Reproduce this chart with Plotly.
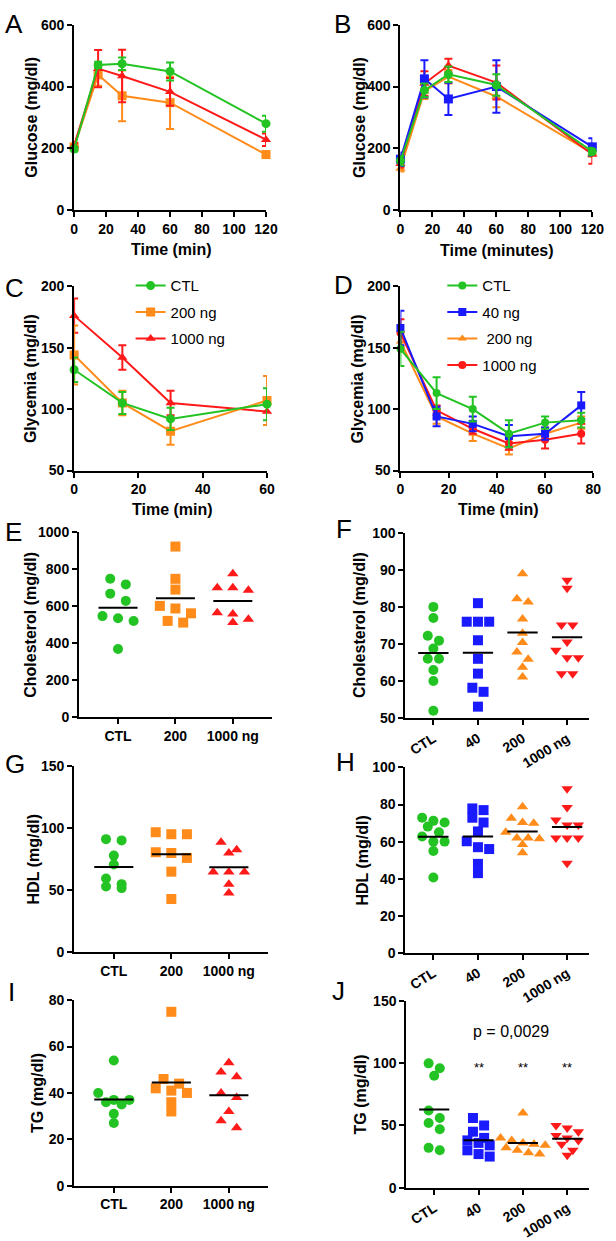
import numpy as np
import plotly.graph_objects as go

W, H = 616, 1241
PAD = 0
FW, FH = W - 2 * PAD, H - 2 * PAD
FONT = "Liberation Sans"
GREEN = "#22c322"
ORANGE = "#ff8c1a"
RED = "#ff1a1a"
BLUE = "#1a1aff"

# ---------------- data ----------------
# Panel A (GTT)
A_time = [0, 15, 30, 60, 120]
A_ctl = [198, 470, 474, 449, 280]
A_ctl_sem = [8, 10, 20, 29, 26]
A_200 = [205, 438, 370, 348, 180]
A_200_sem = [8, 35, 82, 85, 10]
A_1000 = [210, 458, 434, 383, 228]
A_1000_sem = [8, 60, 85, 45, 20]

# Panel B (GTT)
B_time = [0, 15, 30, 60, 120]
B_ctl = [160, 388, 440, 405, 190]
B_ctl_sem = [15, 22, 25, 35, 12]
B_40 = [165, 425, 360, 400, 205]
B_40_sem = [22, 60, 52, 85, 28]
B_200 = [135, 385, 432, 368, 185]
B_200_sem = [10, 25, 22, 35, 12]
B_1000 = [150, 410, 468, 413, 180]
B_1000_sem = [12, 40, 22, 55, 30]

# Panel C (ITT)
C_time = [0, 15, 30, 60]
C_ctl = [132, 105, 92, 104]
C_ctl_sem = [10, 9, 9, 13]
C_200 = [144, 105, 82, 107]
C_200_sem = [24, 10, 11, 20]
C_1000 = [176, 142, 105, 98]
C_1000_sem = [14, 10, 10, 11]

# Panel D (ITT)
D_time = [0, 15, 30, 45, 60, 75]
D_ctl = [149, 113, 100, 80, 89, 91]
D_ctl_sem = [14, 13, 10, 11, 5, 6]
D_40 = [166, 94, 88, 78, 80, 103]
D_40_sem = [14, 8, 6, 9, 5, 11]
D_200 = [155, 94, 80, 68, 80, 89]
D_200_sem = [8, 6, 6, 5, 5, 5]
D_1000 = [162, 99, 84, 72, 75, 80]
D_1000_sem = [11, 4, 4, 5, 7, 8]

# Scatter panels
cats3 = ["CTL", "200", "1000 ng"]
cats4 = ["CTL", "40", "200", "1000 ng"]

E_ctl = [746, 716, 666, 627, 545, 533, 519, 368]
E_200 = [920, 746, 688, 600, 586, 560, 519, 510]
E_1000 = [773, 698, 698, 684, 563, 556, 528, 510]

F_ctl = [80, 77, 72.2, 70.9, 68.8, 66, 66, 63, 60, 52]
F_40 = [81, 76, 76, 76, 71, 66, 62, 58.2, 57.1, 53.1]
F_200 = [88.9, 82.2, 81.3, 76.7, 72.9, 70.4, 67.8, 65.9, 63.7, 61.1]
F_1000 = [87.2, 85, 75.1, 75.1, 70.5, 68.3, 66.3, 66.3, 62, 62]

G_ctl = [91.2, 90.2, 77.9, 70.7, 59.3, 54.8, 52.9, 51.6]
G_200 = [96.8, 95.2, 95.2, 80.6, 80, 76, 64.9, 42.8]
G_1000 = [88.6, 82.7, 80, 64.6, 64.6, 64.6, 54.8, 47.6]

H_ctl = [72.9, 71.2, 70.3, 68.1, 65, 62.8, 60, 60, 54.9, 40.7]
H_40 = [77.9, 77, 72.9, 70.3, 65.5, 60.2, 57, 56, 48, 43]
H_200 = [78.8, 72.6, 70.3, 69.9, 65, 62, 62, 61.5, 58.4, 54]
H_1000 = [88.5, 78.4, 71.7, 69, 69, 62, 62, 62, 48.3]

I_ctl = [54, 40, 37, 37, 36, 35, 31, 27]
I_200 = [75, 46, 44, 42, 41, 40, 36, 32]
I_1000 = [53, 49, 47, 40, 38, 32, 28, 25]

J_ctl = [100, 96, 90, 62, 56, 52, 47, 32, 30]
J_40 = [56, 50, 45, 40, 38, 36, 34, 30, 27, 25]
J_200 = [60, 40, 38, 36, 35, 34, 32, 30, 28, 27]
J_1000 = [50, 48, 45, 42, 40, 38, 35, 30, 26]

# ---------------- layout helpers ----------------
fig = go.Figure()

def PX(x):
    return (x - PAD) / FW

def PY(y):
    return 1 - (y - PAD) / FH

def tick_font(size=14):
    return dict(family=FONT, size=size, color="black", weight="bold")

axis_common = dict(showline=True, linewidth=2, linecolor="black", ticks="outside",
                   ticklen=5, tickwidth=2, tickcolor="black", showgrid=False,
                   zeroline=False, fixedrange=True, tickfont=tick_font())

# panel geometry in reference pixels: (x0, x1, ytop, ybottom)
geom = {
    1: (72, 269, 17, 205),
    2: (407, 604, 17, 205),
    3: (72, 270, 282, 469),
    4: (407, 605, 282, 469),
    5: (77, 275, 531, 719),
    6: (412, 601, 532, 720),
    7: (72, 271, 769, 957),
    8: (412, 601, 770, 958),
    9: (72, 271, 1006, 1194),
    10: (413, 601, 1007, 1196),
}

def ax_names(i):
    return ("xaxis" if i == 1 else f"xaxis{i}", "yaxis" if i == 1 else f"yaxis{i}",
            "x" if i == 1 else f"x{i}", "y" if i == 1 else f"y{i}")

def setup_axes(i, xrange, yrange, xdtick=None, ydtick=None, tickvals=None, ticktext=None, tickangle=0):
    x0, x1, yt, yb = geom[i]
    xa, ya, xr, yr = ax_names(i)
    xcfg = dict(axis_common, domain=[PX(x0), PX(x1)], range=xrange, anchor=yr)
    if tickvals is not None:
        xcfg.update(tickmode="array", tickvals=tickvals, ticktext=ticktext, tickangle=tickangle)
    else:
        xcfg.update(tick0=0, dtick=xdtick)
    ycfg = dict(axis_common, domain=[PY(yb), PY(yt)], range=yrange, anchor=xr,
                tick0=0, dtick=ydtick)
    fig.layout[xa] = xcfg
    fig.layout[ya] = ycfg

def line_series(i, x, y, sem, color, symbol, name, legend=None, rank=None, size=9):
    _, _, xr, yr = ax_names(i)
    fig.add_trace(go.Scatter(
        x=x, y=y, mode="lines+markers", name=name,
        line=dict(color=color, width=2),
        marker=dict(symbol=symbol, size=size, color=color),
        error_y=dict(type="data", array=sem, color=color, thickness=2, width=4),
        xaxis=xr, yaxis=yr, cliponaxis=False,
        showlegend=legend is not None,
        legend=legend if legend else "legend",
        legendgroup=f"{legend}{name}" if legend else None,
        legendrank=rank if rank else 1000,
    ))

def swarm(values, px_per_unit, slot_cat, thr_px=8):
    """Arrange points of one column in rows (GraphPad style scatter)."""
    vals = np.asarray(values, dtype=float)
    order = np.argsort(-vals, kind="stable")
    offs = np.zeros(len(vals))
    rows, cur = [], []
    for idx in order:
        if cur and (vals[cur[0]] - vals[idx]) * px_per_unit >= thr_px:
            rows.append(cur)
            cur = []
        cur.append(idx)
    if cur:
        rows.append(cur)
    for r in rows:
        n = len(r)
        for k, idx in enumerate(r):
            offs[idx] = (k - (n - 1) / 2) * slot_cat
    return offs

def scatter_panel(i, groups, colors, symbols, px_per_unit, slot_cat, half=0.34):
    _, _, xr, yr = ax_names(i)
    for c, (vals, col, sym) in enumerate(zip(groups, colors, symbols)):
        offs = swarm(vals, px_per_unit, slot_cat)
        fig.add_trace(go.Scatter(
            x=c + offs, y=vals, mode="markers",
            marker=dict(symbol=sym, size=10, color=col),
            xaxis=xr, yaxis=yr, showlegend=False, cliponaxis=False))
        m = float(np.mean(vals))
        fig.add_trace(go.Scatter(
            x=[c - half, c + half], y=[m, m], mode="lines",
            line=dict(color="black", width=2),
            xaxis=xr, yaxis=yr, showlegend=False, cliponaxis=False))

# ---------------- panels ----------------
# A
setup_axes(1, [0, 120], [0, 600], xdtick=20, ydtick=200)
line_series(1, A_time, A_200, A_200_sem, ORANGE, "square", "200 ng")
line_series(1, A_time, A_1000, A_1000_sem, RED, "triangle-up", "1000 ng")
line_series(1, A_time, A_ctl, A_ctl_sem, GREEN, "circle", "CTL")

# B
setup_axes(2, [0, 120], [0, 600], xdtick=20, ydtick=200)
line_series(2, B_time, B_200, B_200_sem, ORANGE, "triangle-up", "200 ng")
line_series(2, B_time, B_1000, B_1000_sem, RED, "triangle-up", "1000 ng")
line_series(2, B_time, B_40, B_40_sem, BLUE, "square", "40 ng")
line_series(2, B_time, B_ctl, B_ctl_sem, GREEN, "circle", "CTL")

# C
setup_axes(3, [0, 60], [50, 200], xdtick=20, ydtick=50)
line_series(3, C_time, C_1000, C_1000_sem, RED, "triangle-up", "1000 ng", legend="legend", rank=3)
line_series(3, C_time, C_200, C_200_sem, ORANGE, "square", "200 ng", legend="legend", rank=2)
line_series(3, C_time, C_ctl, C_ctl_sem, GREEN, "circle", "CTL", legend="legend", rank=1)

# D
setup_axes(4, [0, 80], [50, 200], xdtick=20, ydtick=50)
line_series(4, D_time, D_200, D_200_sem, ORANGE, "triangle-up", " 200 ng", legend="legend2", rank=3, size=8)
line_series(4, D_time, D_1000, D_1000_sem, RED, "circle", "1000 ng", legend="legend2", rank=4, size=8)
line_series(4, D_time, D_40, D_40_sem, BLUE, "square", "40 ng", legend="legend2", rank=2, size=8)
line_series(4, D_time, D_ctl, D_ctl_sem, GREEN, "circle", "CTL", legend="legend2", rank=1, size=8)

c3 = [GREEN, ORANGE, RED]
s3 = ["circle", "square", "triangle-up"]
c4 = [GREEN, BLUE, ORANGE, RED]
s4 = ["circle", "square", "triangle-up", "triangle-down"]

# E
setup_axes(5, [-0.68, 2.68], [0, 1000], ydtick=200, tickvals=[0, 1, 2], ticktext=cats3)
scatter_panel(5, [E_ctl, E_200, E_1000], c3, s3, 188 / 1000, 16 / 59)
# F
setup_axes(6, [-0.63, 3.5], [50, 100], ydtick=10, tickvals=[0, 1, 2, 3], ticktext=cats4, tickangle=-32)
scatter_panel(6, [F_ctl, F_40, F_200, F_1000], c4, s4, 188 / 50, 11.5 / 45.7)
# G
setup_axes(7, [-0.69, 2.68], [0, 150], ydtick=50, tickvals=[0, 1, 2], ticktext=cats3)
scatter_panel(7, [G_ctl, G_200, G_1000], c3, s3, 188 / 150, 16 / 59)
# H
setup_axes(8, [-0.63, 3.5], [0, 100], ydtick=20, tickvals=[0, 1, 2, 3], ticktext=cats4, tickangle=-32)
scatter_panel(8, [H_ctl, H_40, H_200, H_1000], c4, s4, 188 / 100, 11.5 / 45.7)
# I
setup_axes(9, [-0.69, 2.68], [0, 80], ydtick=20, tickvals=[0, 1, 2], ticktext=cats3)
scatter_panel(9, [I_ctl, I_200, I_1000], c3, s3, 188 / 80, 16 / 59)
# J
setup_axes(10, [-0.63, 3.5], [0, 150], ydtick=50, tickvals=[0, 1, 2, 3], ticktext=cats4, tickangle=-32)
scatter_panel(10, [J_ctl, J_40, J_200, J_1000], c4, s4, 189 / 150, 11.5 / 45.7)

# ---------------- annotations ----------------
ann = []
def px_ann(text, x, y, size=16, bold=True, angle=0, family=FONT):
    f = dict(family=family, size=size, color="black")
    if bold:
        f["weight"] = "bold"
    ann.append(dict(text=text, x=PX(x), y=PY(y), xref="paper", yref="paper",
                    showarrow=False, xanchor="center", yanchor="middle",
                    textangle=angle, font=f))

# panel letters: (left edge, cap top) in reference pixels
letters = {"A": (0, 2), "B": (338, 3), "C": (0, 273), "D": (338, 270),
           "E": (0, 520), "F": (340, 517), "G": (0, 755), "H": (340, 753),
           "I": (3, 986), "J": (336, 985)}
for letter, (lx, ly) in letters.items():
    ann.append(dict(text=letter, x=PX(max(lx, PAD)), y=PY(max(ly - 5, PAD)),
                    xref="paper", yref="paper", showarrow=False,
                    xanchor="left", yanchor="top", borderpad=0,
                    font=dict(family=FONT, size=26, color="black")))

# y titles
px_ann("Glucose (mg/dl)", 28, 111, angle=-90)
px_ann("Glucose (mg/dl)", 365, 111, angle=-90)
px_ann("Glycemia (mg/dl)", 28, 376, angle=-90)
px_ann("Glycemia (mg/dl)", 363, 376, angle=-90)
px_ann("Cholesterol (mg/dl)", 27, 625, angle=-90)
px_ann("Cholesterol (mg/dl)", 365, 626, angle=-90)
px_ann("HDL (mg/dl)", 30, 863, angle=-90)
px_ann("HDL (mg/dl)", 368, 864, angle=-90)
px_ann("TG (mg/dl)", 35, 1100, angle=-90)
px_ann("TG (mg/dl)", 366, 1101, angle=-90)

# x titles
px_ann("Time (min)", 172, 245)
px_ann("Time (minutes)", 506, 246)
px_ann("Time (min)", 173, 508)
px_ann("Time (min)", 508, 508)

# J statistics
ann.append(dict(text="p = 0,0029", x=1.73, y=126, xref="x10", yref="y10", showarrow=False,
                font=dict(family=FONT, size=16, color="black")))
for c in [1, 2, 3]:
    ann.append(dict(text="**", x=c, y=97, xref="x10", yref="y10", showarrow=False,
                    font=dict(family=FONT, size=13, color="black")))

leg_common = dict(xanchor="left", yanchor="top", bgcolor="rgba(0,0,0,0)",
                  font=dict(family=FONT, size=15, color="black"),
                  tracegroupgap=4, traceorder="grouped", itemwidth=30)

fig.update_layout(
    width=FW, height=FH, margin=dict(l=0, r=0, t=0, b=0),
    paper_bgcolor="white", plot_bgcolor="white",
    showlegend=True,
    legend=dict(leg_common, x=PX(130), y=PY(265)),
    legend2=dict(leg_common, x=PX(450), y=PY(265)),
    annotations=ann,
)

post = (
    "document.documentElement.style.overflow='hidden';"
    "document.body.style.margin='0px';"
    "document.body.style.overflow='hidden';"
)
fig.write_html("out.html", config={"displayModeBar": False}, post_script=post)
